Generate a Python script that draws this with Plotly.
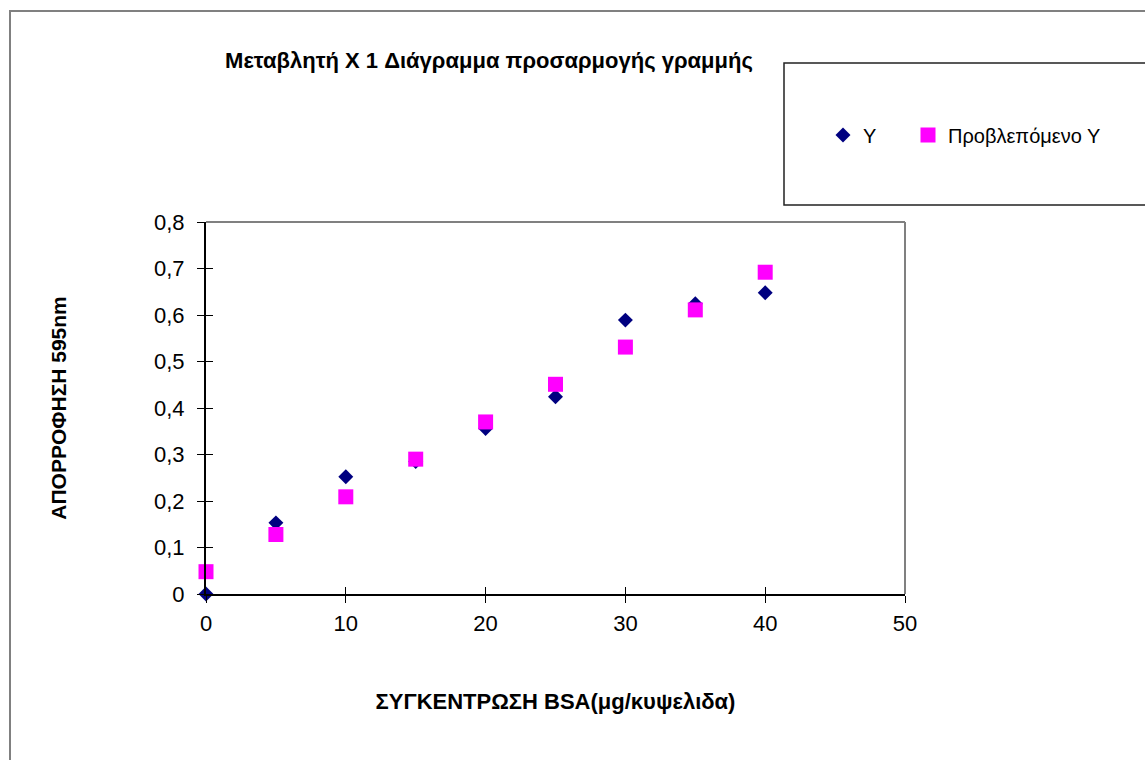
import plotly.graph_objects as go

# BSA standard curve: measured absorbance and fitted (predicted) absorbance
concentration = [0, 5, 10, 15, 20, 25, 30, 35, 40]
absorbance_y = [0.0, 0.153, 0.252, 0.285, 0.356, 0.424, 0.589, 0.624, 0.648]
predicted_y = [0.048, 0.128, 0.209, 0.290, 0.370, 0.451, 0.531, 0.611, 0.692]

x_ticks = [0, 10, 20, 30, 40, 50]
y_ticks = [0, 0.1, 0.2, 0.3, 0.4, 0.5, 0.6, 0.7, 0.8]

W, H = 1145, 760
L, R, T, B = 206, 240, 222, 166
PW, PH = W - L - R, H - T - B


def px(xp):
    return (xp - L) / PW


def py(yp):
    return (H - B - yp) / PH


FONT = "Arial, 'Liberation Sans', sans-serif"

fig = go.Figure()
fig.add_trace(go.Scatter(
    x=concentration, y=absorbance_y, mode="markers", name="Y",
    marker=dict(symbol="diamond", size=11.5, color="#000080", line=dict(width=0)),
    cliponaxis=False, legend="legend", showlegend=True,
))
fig.add_trace(go.Scatter(
    x=concentration, y=predicted_y, mode="markers", name="Προβλεπόμενο Υ",
    marker=dict(symbol="square", size=15, color="#FF00FF", line=dict(width=0)),
    cliponaxis=False, legend="legend2", showlegend=True,
))

axis_common = dict(showgrid=False, zeroline=False)
legend_common = dict(
    orientation="h", yanchor="middle", y=py(135), xanchor="left",
    font=dict(family=FONT, size=20, color="black"),
    bgcolor="rgba(0,0,0,0)", borderwidth=0,
)

fig.update_layout(
    width=W, height=H,
    showlegend=True,
    margin=dict(l=L, r=R, t=T, b=B, autoexpand=False),
    paper_bgcolor="white", plot_bgcolor="white",
    separators=",.",
    font=dict(family=FONT, size=22, color="black"),
    title=dict(
        text="Μεταβλητή X 1 Διάγραμμα προσαρμογής γραμμής",
        font=dict(family=FONT, size=22, weight="bold", color="black"),
        xref="container", yref="container",
        x=489 / W, xanchor="center", y=1 - 60 / H, yanchor="middle",
    ),
    xaxis=dict(
        **axis_common, range=[0, 50], tickvals=x_ticks,
        showline=True, linecolor="black", linewidth=2,
        ticks="outside", ticklen=7, tickwidth=1, tickcolor="black",
        ticklabelstandoff=2,
        tickfont=dict(size=22),
        title=dict(text="ΣΥΓΚΕΝΤΡΩΣΗ BSA(μg/κυψελιδα)",
                   font=dict(size=22, weight="bold"), standoff=58),
        automargin=False,
    ),
    yaxis=dict(
        **axis_common, range=[0, 0.8], tickvals=y_ticks,
        showline=True, linecolor="black", linewidth=2,
        ticks="outside", ticklen=7, tickwidth=1, tickcolor="black",
        ticklabelstandoff=8,
        tickfont=dict(size=22),
        title=dict(text="ΑΠΟΡΡΟΦΗΣΗ 595nm",
                   font=dict(size=21, weight="bold"), standoff=82),
        automargin=False,
    ),
    xaxis2=dict(
        **axis_common, overlaying="x", matches="x", range=[0, 50], tickvals=x_ticks,
        ticks="inside", ticklen=7, tickwidth=1, tickcolor="black",
        showticklabels=False, showline=False,
    ),
    yaxis2=dict(
        **axis_common, overlaying="y", matches="y", range=[0, 0.8], tickvals=y_ticks,
        ticks="inside", ticklen=7, tickwidth=1, tickcolor="black",
        showticklabels=False, showline=False,
    ),
    legend=dict(**legend_common, x=px(823)),
    legend2=dict(**legend_common, x=px(908)),
    shapes=[
        # outer chart frame
        dict(type="rect", xref="paper", yref="paper",
             x0=px(10), x1=px(1300), y0=py(900), y1=py(11),
             line=dict(color="#808080", width=2), layer="below"),
        # legend frame
        dict(type="rect", xref="paper", yref="paper",
             x0=px(784), x1=px(1300), y0=py(205), y1=py(63),
             line=dict(color="#222222", width=1.5), layer="below"),
        # plot-area frame (top and right edges)
        dict(type="line", xref="x domain", yref="y domain",
             x0=0, x1=1, y0=1, y1=1, line=dict(color="#808080", width=2)),
        dict(type="line", xref="x domain", yref="y domain",
             x0=1, x1=1, y0=0, y1=1, line=dict(color="#808080", width=2)),
    ],
)

# empty trace so the overlay axes carrying the inner tick marks are drawn
fig.add_trace(go.Scatter(x=[], y=[], xaxis="x2", yaxis="y2", showlegend=False, hoverinfo="skip"))

fig.write_html("out.html")
